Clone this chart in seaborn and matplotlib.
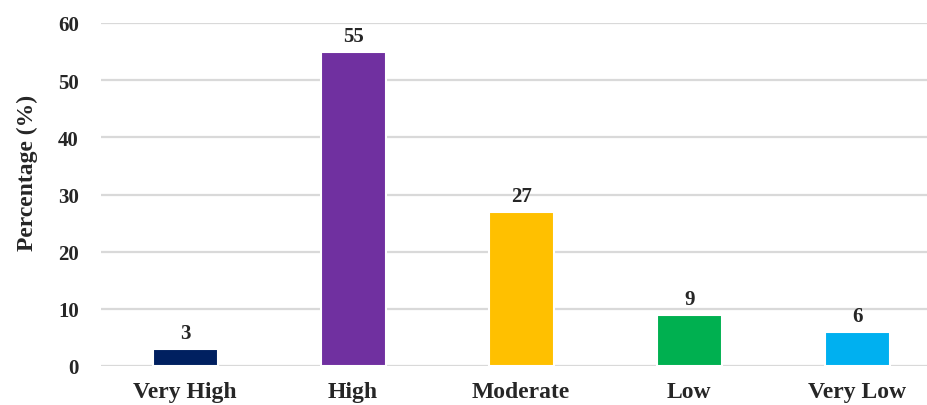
import matplotlib
matplotlib.use("Agg")
import matplotlib.pyplot as plt
import seaborn as sns
import pandas as pd

categories = ["Very High", "High", "Moderate", "Low", "Very Low"]
percentages = [3, 55, 27, 9, 6]
bar_colors = ["#002060", "#7030A0", "#FFC000", "#00B050", "#00B0F0"]
y_ticks = [0, 10, 20, 30, 40, 50, 60]

sns.set_style("white")
plt.rcParams["font.family"] = ["Liberation Serif", "DejaVu Serif"]
plt.rcParams["font.weight"] = "bold"

df = pd.DataFrame({"level": categories, "pct": percentages})

fig = plt.figure(figsize=(9.28, 4.06), dpi=100)
ax = fig.add_axes([101 / 928, 39 / 406, 827 / 928, 343 / 406])

sns.barplot(data=df, x="level", y="pct", hue="level", palette=bar_colors,
            legend=False, width=0.387, edgecolor="white", linewidth=1.5,
            saturation=1, ax=ax)

ax.set_xlim(-0.5, 4.42)
ax.set_ylim(0, 60)
ax.set_yticks(y_ticks)
ax.yaxis.grid(True, color="#D9D9D9", linewidth=1.6)
ax.set_axisbelow(True)
for s in ax.spines.values():
    s.set_visible(False)

ax.tick_params(axis="y", length=0, pad=16, labelsize=15)
ax.tick_params(axis="x", length=0, pad=11, labelsize=17)
for lab in ax.get_xticklabels() + ax.get_yticklabels():
    lab.set_fontweight("bold")

ax.set_xlabel("")
ax.set_ylabel("Percentage (%)", fontsize=17, fontweight="bold")
ax.yaxis.set_label_coords(-0.076, 0.566)

for i, v in enumerate(percentages):
    ax.annotate(str(v), (i, v), xytext=(0, 4), textcoords="offset points",
                ha="center", va="bottom", fontsize=15, fontweight="bold")

fig.savefig("out.png", dpi=100)
